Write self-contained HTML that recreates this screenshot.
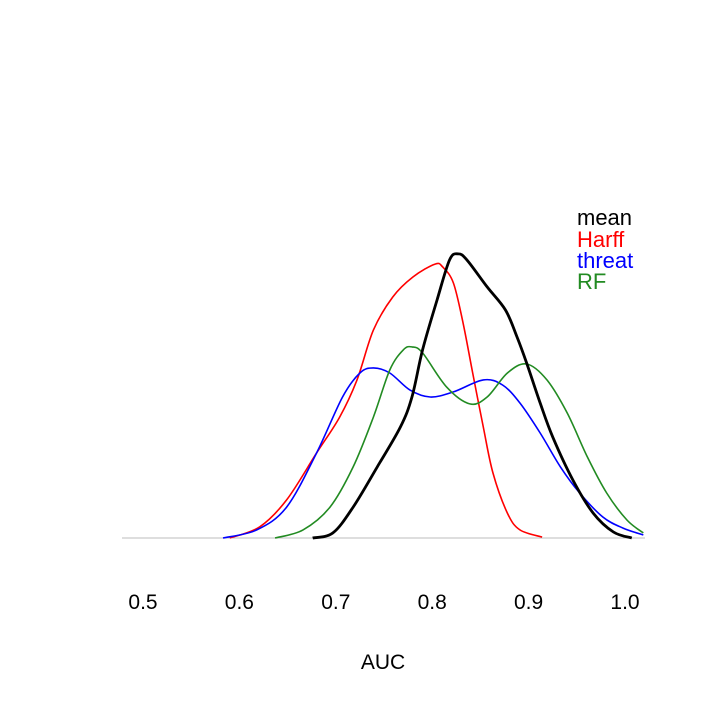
<!DOCTYPE html>
<html><head><meta charset="utf-8"><style>
html,body{margin:0;padding:0;background:#fff;width:708px;height:708px;overflow:hidden}
svg text{font-family:"Liberation Sans",sans-serif}
</style></head><body>
<svg id="chart" width="708" height="708">
<line x1="122" y1="538" x2="645" y2="538" stroke="#bebebe" stroke-width="1"/>
<g id="ticks"></g>
<text x="383" y="669" font-size="21" text-anchor="middle">AUC</text>
<g id="curves"></g>
<g>
<text x="577" y="225" font-size="22" fill="#000">mean</text>
<text x="577" y="247" font-size="22" fill="#ff0000">Harff</text>
<text x="577" y="268" font-size="22" fill="#0000ff">threat</text>
<text x="577" y="289" font-size="22" fill="#228b22">RF</text>
</g>
</svg>
<script>
const tickValues=[0.5,0.6,0.7,0.8,0.9,1.0];
const tickLabels=["0.5","0.6","0.7","0.8","0.9","1.0"];
const meanAuc=[0.676,0.697,0.718,0.743,0.767,0.779,0.790,0.805,0.818,0.827,0.836,0.857,0.876,0.888,0.898,0.912,0.925,0.946,0.967,0.988,1.007];
const meanDensity=[0,0.17,1.03,2.37,3.70,4.70,6.27,7.93,9.27,9.47,9.27,8.37,7.60,6.70,5.83,4.50,3.37,1.93,0.83,0.2,0];
const harffAuc=[0.590,0.621,0.649,0.680,0.704,0.722,0.739,0.759,0.780,0.803,0.811,0.822,0.832,0.842,0.853,0.863,0.878,0.891,0.914];
const harffDensity=[0,0.37,1.27,2.83,4.03,5.27,6.93,8.03,8.70,9.13,9.03,8.50,7.17,5.50,3.70,2.17,0.83,0.27,0.03];
const threatAuc=[0.583,0.618,0.649,0.680,0.707,0.725,0.739,0.756,0.777,0.798,0.822,0.853,0.873,0.891,0.912,0.933,0.953,0.977,0.998,1.019];
const threatDensity=[0,0.27,1.03,2.83,4.70,5.50,5.67,5.50,4.93,4.70,4.87,5.27,5.10,4.50,3.50,2.37,1.50,0.70,0.33,0.10];
const rfAuc=[0.637,0.666,0.694,0.718,0.739,0.756,0.770,0.779,0.790,0.815,0.839,0.857,0.878,0.898,0.919,0.940,0.961,0.981,1.002,1.019];
const rfDensity=[0,0.27,1.03,2.37,4.03,5.60,6.27,6.37,6.17,5.03,4.47,4.70,5.50,5.80,5.27,4.17,2.70,1.50,0.60,0.17];

const xs=v=>143+(v-0.5)*964;
const ys=d=>538-d*30;
const NS="http://www.w3.org/2000/svg";
const tg=document.getElementById('ticks');
tickValues.forEach((v,i)=>{
  const t=document.createElementNS(NS,'text');
  t.setAttribute('x',xs(v));t.setAttribute('y',609);t.setAttribute('font-size','21');t.setAttribute('text-anchor','middle');
  t.textContent=tickLabels[i];
  
  
  tg.appendChild(t);
});
function pathFor(ax,dy){
  const p=ax.map((a,i)=>[xs(a),ys(dy[i])]);
  let d=`M${p[0][0]},${p[0][1]}`;
  for(let i=0;i<p.length-1;i++){
    const p0=p[Math.max(0,i-1)],p1=p[i],p2=p[i+1],p3=p[Math.min(p.length-1,i+2)];
    const c1=[p1[0]+(p2[0]-p0[0])/6,p1[1]+(p2[1]-p0[1])/6];
    const c2=[p2[0]-(p3[0]-p1[0])/6,p2[1]-(p3[1]-p1[1])/6];
    d+=` C${c1[0]},${c1[1]} ${c2[0]},${c2[1]} ${p2[0]},${p2[1]}`;
  }
  return d;
}
const cg=document.getElementById('curves');
function addCurve(ax,dy,color,w,name){
  const el=document.createElementNS(NS,'path');
  el.setAttribute('d',pathFor(ax,dy));el.setAttribute('fill','none');el.setAttribute('stroke',color);el.setAttribute('stroke-width',w);
  
  
  cg.appendChild(el);
}
addCurve(harffAuc,harffDensity,'#ff0000',1.6,'harff-density-line');
addCurve(threatAuc,threatDensity,'#0000ff',1.6,'threat-density-line');
addCurve(rfAuc,rfDensity,'#228b22',1.6,'rf-density-line');
addCurve(meanAuc,meanDensity,'#000000',2.8,'mean-density-line');
</script>
</body></html>
